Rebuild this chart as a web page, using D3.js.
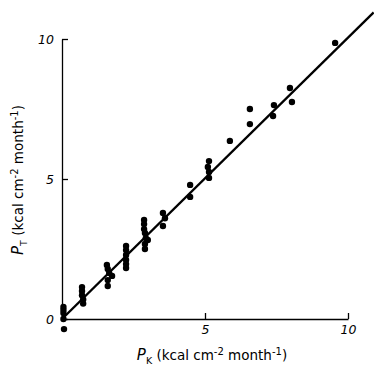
<!DOCTYPE html>
<html>
<head>
<meta charset="utf-8">
<script src="https://cdn.jsdelivr.net/npm/d3@7"></script>
<style>
  body { margin: 0; background: #fff; }
  svg { display: block; }
  .axis path, .axis line { stroke: #000; stroke-width: 1.3px; }
  .axis text { font-family: "DejaVu Sans", sans-serif; font-size: 12.5px; font-style: italic; fill: #000; }
  .label { font-family: "DejaVu Sans", sans-serif; font-size: 13.5px; fill: #000; }
</style>
</head>
<body>
<div id="chart"></div>
<script>
// monthly values, P_K vs P_T (kcal cm-2 month-1)
const pK = [
  0.05, 0.05, 0.05, 0.05, 0.07,
  0.70, 0.70, 0.70, 0.74, 0.74,
  1.57, 1.60, 1.65, 1.75, 1.60, 1.60,
  2.24, 2.24, 2.24, 2.24, 2.24, 2.24,
  2.87, 2.87, 2.87, 2.90, 2.93, 3.00, 2.90, 2.90,
  3.53, 3.60, 3.53,
  4.48, 4.48,
  5.10, 5.14, 5.14, 5.14,
  5.87, 6.57, 6.57, 7.41, 7.38, 7.97, 8.04, 9.55
];
const pT = [
  0.43, 0.32, 0.21, 0.00, -0.36,
  1.14, 1.00, 0.85, 0.70, 0.55,
  1.93, 1.79, 1.64, 1.54, 1.39, 1.18,
  2.61, 2.46, 2.29, 2.11, 1.96, 1.82,
  3.54, 3.39, 3.21, 3.07, 2.89, 2.82, 2.68, 2.50,
  3.79, 3.60, 3.32,
  4.79, 4.36,
  5.43, 5.64, 5.25, 5.04,
  6.36, 7.50, 6.96, 7.64, 7.25, 8.25, 7.75, 9.86
];
// fitted line
const fitX = [0, 10.9];
const fitY = [0, 10.95];
const xTicks = [5, 10];
const yTicks = [0, 5, 10];

const width = 374, height = 377;
const svg = d3.select("#chart").append("svg")
    .attr("width", width)
    .attr("height", height);

const x = d3.scaleLinear().domain([0, 10]).range([62, 348]);
const y = d3.scaleLinear().domain([0, 10]).range([319, 39]);

// axes
svg.append("g")
    .attr("class", "axis")
    .attr("transform", "translate(0," + y(0) + ")")
    .call(d3.axisBottom(x).tickValues(xTicks).tickSizeInner(-6).tickSizeOuter(0).tickPadding(6));

svg.append("g")
    .attr("class", "axis")
    .attr("transform", "translate(" + x(0) + ",0)")
    .call(d3.axisLeft(y).tickValues(yTicks).tickSizeInner(-6).tickSizeOuter(0).tickPadding(8));

// fit line
const line = d3.line()
    .x(d => x(d[0]))
    .y(d => y(d[1]));

svg.append("path")
    .datum(fitX.map((v, i) => [v, fitY[i]]))
    .attr("d", line)
    .attr("fill", "none")
    .attr("stroke", "#000")
    .attr("stroke-width", 2.4);

// points
svg.selectAll("circle.pt")
    .data(pK.map((v, i) => ({k: v, t: pT[i]})))
    .enter()
    .append("circle")
    .attr("class", "pt")
    .attr("cx", d => x(d.k))
    .attr("cy", d => y(d.t))
    .attr("r", 3.2)
    .attr("fill", "#000");

// axis labels
function unitLabel(sel, sub) {
    sel.append("tspan").attr("font-style", "italic").attr("font-size", "15px").text("P");
    sel.append("tspan").attr("font-size", "9.5px").attr("dy", 4).text(sub);
    sel.append("tspan").attr("dy", -4).text(" (kcal cm");
    sel.append("tspan").attr("font-size", "10px").attr("dy", -5).text("-2");
    sel.append("tspan").attr("dy", 5).text(" month");
    sel.append("tspan").attr("font-size", "10px").attr("dy", -5).text("-1");
    sel.append("tspan").attr("dy", 5).text(")");
}

svg.append("text")
    .attr("class", "label")
    .attr("x", 212)
    .attr("y", 360)
    .attr("text-anchor", "middle")
    .call(unitLabel, "K");

svg.append("text")
    .attr("class", "label")
    .attr("transform", "translate(23,180) rotate(-90)")
    .attr("text-anchor", "middle")
    .call(unitLabel, "T");
</script>
</body>
</html>
